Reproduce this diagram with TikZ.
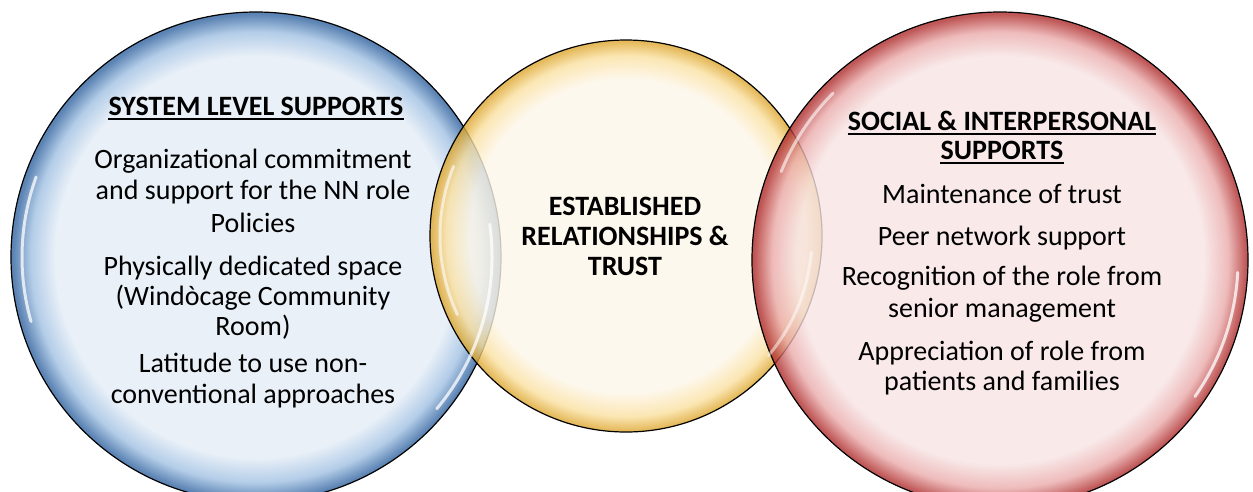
\documentclass[tikz,border=0pt]{standalone}
\usepackage{fontspec}
\setmainfont{Carlito}
\usetikzlibrary{positioning}

% glass colours of the three bubbles
\definecolor{blueLt}{RGB}{227,236,246}
\definecolor{blueMd}{RGB}{160,192,226}
\definecolor{blueDk}{RGB}{50,100,160}
\definecolor{goldLt}{RGB}{253,246,232}
\definecolor{goldMd}{RGB}{250,224,160}
\definecolor{goldDk}{RGB}{222,168,50}
\definecolor{redLt}{RGB}{247,228,228}
\definecolor{redMd}{RGB}{234,170,170}
\definecolor{redDk}{RGB}{175,45,45}

% edge of the path sits at 25bp
\pgfdeclareradialshading{blueglass}{\pgfpoint{0bp}{0bp}}{color(0bp)=(blueLt); color(20.5bp)=(blueLt); color(23bp)=(blueMd); color(24.8bp)=(blueDk); color(50bp)=(blueDk)}
\pgfdeclareradialshading{goldglass}{\pgfpoint{0bp}{0bp}}{color(0bp)=(goldLt); color(20bp)=(goldLt); color(23bp)=(goldMd); color(24.8bp)=(goldDk); color(50bp)=(goldDk)}
\pgfdeclareradialshading{redglass}{\pgfpoint{0bp}{0bp}}{color(0bp)=(redLt); color(20.5bp)=(redLt); color(23bp)=(redMd); color(24.8bp)=(redDk); color(50bp)=(redDk)}

\begin{document}
\begin{tikzpicture}[x=1pt,y=-1pt,
  bubble/.style={circle,draw=black,line width=1.2pt,inner sep=0pt,fill opacity=0.8},
  gleam/.style={white,line width=3pt,line cap=round,opacity=0.75},
  txt/.style={inner sep=0pt,anchor=base,font=\fontsize{28}{30}\selectfont},
  head/.style={txt,font=\fontsize{28}{30}\selectfont\bfseries},
  uline/.style={line width=1.3pt}]
  \useasboundingbox (0,0) rectangle (1253,491);

  % the three bubbles
  \node[bubble,minimum size=490pt,shading=blueglass] (sys) at (256,257) {};
  \node[bubble,minimum size=392pt,shading=goldglass] (rel) at (626,236) {};
  \node[bubble,minimum size=496pt,shading=redglass] (soc) at (1000,260) {};

  % highlights on the glass
  \draw[gleam] ([shift={(160:234pt)}]sys.center) arc[start angle=160,end angle=196,radius=234pt];
  \draw[gleam] ([shift={(8:236pt)}]sys.center) arc[start angle=8,end angle=-40,radius=236pt];
  \draw[gleam,opacity=0.6] ([shift={(158:186pt)}]rel.center) arc[start angle=158,end angle=205,radius=186pt];
  \draw[gleam,opacity=0.5] ([shift={(-5:186pt)}]rel.center) arc[start angle=-5,end angle=-40,radius=186pt];
  \draw[gleam,opacity=0.6] ([shift={(158:236pt)}]soc.center) arc[start angle=158,end angle=135,radius=236pt];
  \draw[gleam] ([shift={(-3:238pt)}]soc.center) arc[start angle=-3,end angle=-35,radius=238pt];

  % system level
  \node[head] (sysHead) at (256,115) {SYSTEM LEVEL SUPPORTS};
  \draw[uline] ([yshift=-4pt]sysHead.base west) -- ([yshift=-4pt]sysHead.base east);
  \foreach \y/\t [count=\i] in {168/Organizational commitment, 199/and support for the NN role,
      232/Policies, 275/Physically dedicated space, 305/(Windòcage Community, 335/Room),
      372/Latitude to use non-, 403/conventional approaches}
    \node[txt] (sys\i) at (253,\y) {\t};

  % relationships
  \node[head] (rel1) at (625,215) {ESTABLISHED};
  \node[head] (rel2) at (625,245) {RELATIONSHIPS \&};
  \node[head] (rel3) at (625,275) {TRUST};

  % social and interpersonal
  \node[head] (socHead) at (1002,130) {SOCIAL \& INTERPERSONAL};
  \node[head] (socHeadB) at (1002,159) {SUPPORTS};
  \draw[uline] ([yshift=-4pt]socHead.base west) -- ([yshift=-4pt]socHead.base east);
  \draw[uline] ([yshift=-4pt]socHeadB.base west) -- ([yshift=-4pt]socHeadB.base east);
  \foreach \y/\t [count=\i] in {203/Maintenance of trust, 245/Peer network support,
      285/Recognition of the role from, 317/senior management,
      360/Appreciation of role from, 390/patients and families}
    \node[txt] (soc\i) at (1002,\y) {\t};
\end{tikzpicture}
\end{document}
